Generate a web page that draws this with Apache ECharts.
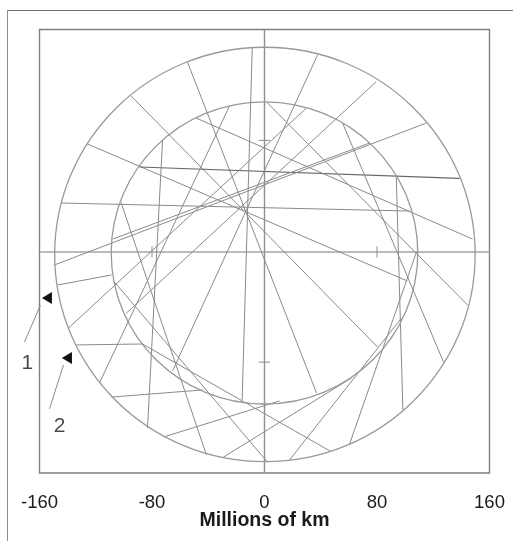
<!DOCTYPE html>
<html><head><meta charset="utf-8">
<style>html,body{margin:0;padding:0;background:#fff}#c{width:513px;height:541px}</style>
<script src="https://cdn.jsdelivr.net/npm/echarts@6/dist/echarts.min.js"></script>
</head><body><div id="c"></div>
<script>
// Values, millions of km
const tickValues = [-160, -80, 0, 80, 160];
const orbitRadii = [149.5, 109];
const orbitCentreX = [0.3, 0];
const orbitCentreY = [-2.3, -1.2];
const pathStartX = [-54.8,-94.8,-125.9,-144.4,-88.9,-8.7,-48.6,1.4,55.5,93.7,115.0,74.7,29.9,79.4,37.7,-24.9,-72.5,-101.9,-147.2,-106.7,-133.7,-86.8,-108.8,-71.1,-29.2,17.8,60.5];
const pathStartY = [136.5,112.0,77.4,34.8,60.8,147.4,96.1,107.7,92.5,54.3,92.5,78.1,103.4,122.3,141.6,104.8,79.8,34.8,-24.4,-22.2,-67.6,-66.9,-105.2,-133.8,-148.5,-150.6,-139.1];
const pathEndX = [37.0,80.4,101.7,103.1,138.7,-15.9,147.9,144.4,127.3,98.4,-149.4,-107.9,-139.4,-98.2,-65.4,-117.4,-83.2,-41.3,-108.8,2.1,-86.8,47.4,-44.1,10.7,61.9,97.4,108.1];
const pathEndY = [-102.3,-69.1,-21.5,29.0,52.6,-107.3,8.8,-38.8,-79.9,-114.5,-9.9,8.8,-55.4,-44.6,-86.4,-95.1,-127.5,-147.0,-17.1,-152.1,-66.9,-144.6,-100.1,-108.0,-91.4,-48.2,-0.5];
const darkPaths = [4];
const crossY = -0.5;
const crossTicks = [-80, 80];
const arrowTipX = [-154.7, -140.5];
const arrowTipY = [-33.7, -77.0];
const leaderFromX = [-170.7, -152.9];
const leaderFromY = [-65.5, -113.8];
const leaderToX = [-159.3, -143.0];
const leaderToY = [-38.8, -82.1];
const markerNames = ['1', '2'];
const markerX = [-168.6, -145.8];
const markerY = [-80.6, -126.0];

const GREY = '#8a8a8a';
const seg = (a, b, color, width, z) => ({
  type: 'line', data: [a, b], symbol: 'none', silent: true, clip: false, animation: false, z: z || 2,
  lineStyle: { color: color || GREY, width: width || 1 }
});
const series = [];
series.push(seg([-160, crossY], [160, crossY], '#a6a6a6', 1.6, 1));
series.push(seg([0, -160], [0, 160], '#8f8f8f', 1.4, 1));
crossTicks.forEach(v => {
  series.push(seg([v, crossY - 4], [v, crossY + 4], '#8c8c8c', 1, 1));
  series.push(seg([-4, v], [4, v], '#8c8c8c', 1, 1));
});
series.push({
  type: 'custom', coordinateSystem: 'cartesian2d', silent: true, animation: false, z: 3,
  data: orbitRadii.map((r, i) => [orbitCentreX[i], orbitCentreY[i], r]),
  renderItem(params, api) {
    const c = api.coord([api.value(0), api.value(1)]);
    const s = api.size([api.value(2), api.value(2)]);
    return { type: 'ellipse', shape: { cx: c[0], cy: c[1], rx: s[0], ry: s[1] },
      style: { fill: null, stroke: '#999999', lineWidth: 1.3 } };
  }
});
pathStartX.forEach((_, i) => {
  const dark = darkPaths.includes(i);
  series.push(seg([pathStartX[i], pathStartY[i]], [pathEndX[i], pathEndY[i]], dark ? '#666666' : GREY, dark ? 1.2 : 1));
});
series.push({
  type: 'custom', coordinateSystem: 'cartesian2d', silent: true, animation: false, clip: false, z: 4,
  data: leaderFromX.map((x, i) => [x, leaderFromY[i], leaderToX[i], leaderToY[i]]),
  renderItem(params, api) {
    const a = api.coord([api.value(0), api.value(1)]);
    const b = api.coord([api.value(2), api.value(3)]);
    return { type: 'line', shape: { x1: a[0], y1: a[1], x2: b[0], y2: b[1] },
      style: { stroke: '#8c8c8c', lineWidth: 1 } };
  }
});
series.push({
  type: 'scatter', silent: true, clip: false, animation: false, z: 5,
  symbol: 'triangle', symbolSize: [12, 10], symbolRotate: 90,
  itemStyle: { color: '#111', opacity: 1 },
  data: arrowTipX.map((x, i) => [x, arrowTipY[i]])
});
series.push({
  type: 'scatter', silent: true, clip: false, animation: false, z: 5,
  symbolSize: 0,
  label: { show: true, position: 'inside', formatter: p => p.data[2], fontFamily: 'Liberation Sans', fontSize: 21, color: '#1a1a1a' },
  data: markerX.map((x, i) => [x, markerY[i], markerNames[i]])
});

const chart = echarts.init(document.getElementById('c'), null, { renderer: 'canvas' });
chart.setOption({
  animation: false,
  backgroundColor: '#ffffff',
  grid: { left: 39.5, right: 23.5, top: 29.5, bottom: 68, show: true, borderColor: '#808080', borderWidth: 1.4, backgroundColor: 'transparent' },
  xAxis: {
    type: 'value', min: -160, max: 160, interval: 80,
    name: 'Millions of km', nameLocation: 'middle', nameGap: 48, nameMoveOverlap: false,
    nameTextStyle: { fontFamily: 'Liberation Sans', fontWeight: 'bold', fontSize: 19.5, color: '#1a1a1a', lineHeight: 20, verticalAlign: 'middle' },
    axisLine: { show: false }, axisTick: { show: false }, splitLine: { show: false },
    axisLabel: { show: true, margin: 20, fontFamily: 'Liberation Sans', fontSize: 18.5, color: '#1a1a1a', hideOverlap: false,
      showMinLabel: true, showMaxLabel: true, customValues: tickValues }
  },
  yAxis: {
    type: 'value', min: -160, max: 160, interval: 80,
    axisLine: { show: false }, axisTick: { show: false }, splitLine: { show: false }, axisLabel: { show: false }
  },
  series,
  graphic: [
    { type: 'line', silent: true, shape: { x1: 7.5, y1: 10.5, x2: 7.5, y2: 541 }, style: { stroke: '#8c8c8c', lineWidth: 1 } },
    { type: 'line', silent: true, shape: { x1: 7.5, y1: 10.5, x2: 513, y2: 10.5 }, style: { stroke: '#707070', lineWidth: 1 } }
  ]
});
</script></body></html>
